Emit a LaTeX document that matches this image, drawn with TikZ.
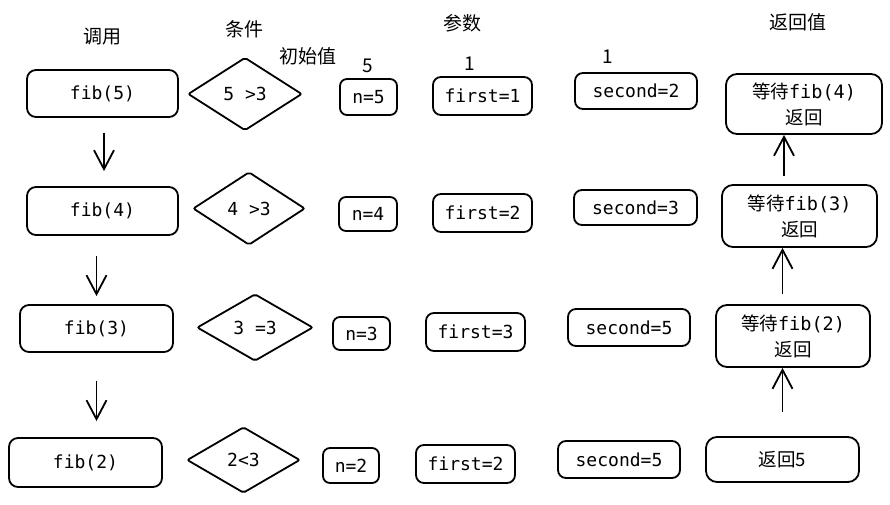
\documentclass[tikz,border=0pt]{standalone}
\usepackage{fontspec}
\setmonofont{DejaVu Sans Mono}
\newfontfamily\cjk{Noto Sans CJK SC}
\usetikzlibrary{shapes.geometric,arrows.meta}
\begin{document}
\begin{tikzpicture}[x=1pt,y=-1pt,line width=1.8pt,
  mono/.style={font=\fontsize{18}{21}\selectfont\ttfamily},
  box/.style={draw,rounded corners=9pt,inner sep=0pt,mono},
  dia/.style={draw,diamond,aspect=1.5,inner sep=0pt,rounded corners=2pt,mono},
  lbl/.style={font=\fontsize{19}{22}\selectfont\cjk,inner sep=0pt},
  num/.style={font=\fontsize{19}{22}\selectfont\cjk,inner sep=0pt},
  retbox/.style={draw,rounded corners=11pt,inner sep=0pt,align=center,
    font=\fontsize{18.5}{26}\selectfont\cjk},
  arr/.style={-{Straight Barb[length=19pt,width=20pt,line width=1.8pt]},line width=1.8pt}]
\useasboundingbox[fill=white] (0,0) rectangle (890,505);
% headers
\node[lbl] (hcall) at (102,37) {调用};
\node[lbl] (hcond) at (244,29) {条件};
\node[lbl] (hinit) at (308,56) {初始值};
\node[lbl] (hpar) at (462,23) {参数};
\node[lbl] (hret) at (798,22) {返回值};
\node[num] (v5) at (368,66) {5};
\node[num] (v1a) at (470,64) {1};
\node[num] (v1b) at (608,57) {1};
% column: calls
\node[box,minimum width=151pt,minimum height=47pt] (fib5) at (102.5,93.5) {fib(5)};
\node[box,minimum width=151pt,minimum height=48pt] (fib4) at (102.5,211) {fib(4)};
\node[box,minimum width=153pt,minimum height=47pt] (fib3) at (96.5,328.5) {fib(3)};
\node[box,minimum width=153pt,minimum height=49pt] (fib2) at (85.5,462.5) {fib(2)};
% conditions
\node[dia,minimum width=114pt,minimum height=73pt] (d1) at (245,94) {5 >3};
\node[dia,minimum width=112pt,minimum height=73pt] (d2) at (249,208.5) {4 >3};
\node[dia,minimum width=116pt,minimum height=67pt] (d3) at (255,327.5) {3 =3};
\node[dia,minimum width=113pt,minimum height=66pt] (d4) at (243.5,460) {2<3};
% n
\node[box,rounded corners=7pt,minimum width=57pt,minimum height=36pt] (n5) at (368.5,97) {n=5};
\node[box,rounded corners=7pt,minimum width=58pt,minimum height=34pt] (n4) at (368,214) {n=4};
\node[box,rounded corners=7pt,minimum width=57pt,minimum height=33pt] (n3) at (361.5,333.5) {n=3};
\node[box,rounded corners=7pt,minimum width=56pt,minimum height=35pt] (n2) at (351,465.5) {n=2};
% first
\node[box,rounded corners=8pt,minimum width=99pt,minimum height=38pt] (f1) at (482.5,96) {first=1};
\node[box,rounded corners=8pt,minimum width=99pt,minimum height=38pt] (f2) at (482.5,213) {first=2};
\node[box,rounded corners=8pt,minimum width=99pt,minimum height=38pt] (f3) at (475.5,332) {first=3};
\node[box,rounded corners=8pt,minimum width=99pt,minimum height=38pt] (f4) at (465.5,464) {first=2};
% second
\node[box,rounded corners=8pt,minimum width=122pt,minimum height=36pt] (s1) at (636,91) {second=2};
\node[box,rounded corners=8pt,minimum width=123pt,minimum height=35pt] (s2) at (635.5,207.5) {second=3};
\node[box,rounded corners=8pt,minimum width=122pt,minimum height=37pt] (s3) at (629,327.5) {second=5};
\node[box,rounded corners=8pt,minimum width=122pt,minimum height=37pt] (s4) at (619,459.5) {second=5};
% return values
\node[retbox,minimum width=156pt,minimum height=60pt] (r1) at (804,104) {等待{\ttfamily fib(4)}\\返回};
\node[retbox,minimum width=155pt,minimum height=62pt] (r2) at (799.5,216) {等待{\ttfamily fib(3)}\\返回};
\node[retbox,minimum width=154pt,minimum height=62pt] (r3) at (793,336) {等待{\ttfamily fib(2)}\\返回};
\node[retbox,minimum width=153pt,minimum height=45pt] (r4) at (782.5,459.5) {返回5};
% call arrows
\draw[arr,shorten <=15pt,shorten >=15pt] ([xshift=1.5pt]fib5.south) -- ([xshift=1.5pt]fib4.north);
\draw[arr,shorten <=20pt,shorten >=8pt] (fib4.south -| fib3) -- (fib3.north);
\draw[arr,shorten <=28pt,shorten >=16pt] (fib3.south) -- (fib2.north -| fib3);
% return arrows
\draw[arr,shorten <=24pt] (r4.north) -- (r3.south -| r4);
\draw[arr,shorten <=10pt] (r3.north -| r4) -- (r2.south -| r4);
\draw[arr,shorten <=8pt] ([xshift=1.5pt]r2.north -| r4) -- ([xshift=1.5pt]r1.south -| r4);
\end{tikzpicture}
\end{document}
